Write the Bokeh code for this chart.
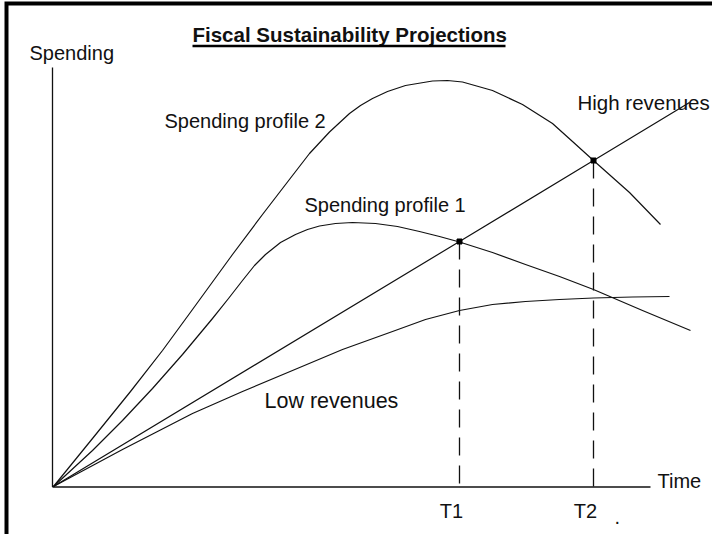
from bokeh.plotting import figure
from bokeh.models import Range1d
from bokeh.embed import file_html
from bokeh.resources import INLINE
from bokeh.core.properties import value

# ---- data (chart units: t = time, s = spending; origin at 0,0) ----
profile2_t = [0, 39, 77, 109, 139, 179, 209, 239, 256, 276, 296, 307, 319, 334, 352,
              379, 394, 409, 439, 469, 499, 519, 540, 576, 607]
profile2_s = [0, 48, 95, 136, 177, 232, 272, 311, 333, 354.5, 373, 381, 388, 395, 401,
              405.5, 406, 404.5, 396, 382, 363, 345, 326, 294, 262]

profile1_t = [0, 39, 69, 99, 129, 159, 175, 189, 201, 212, 227, 242, 254, 266, 282,
              299, 322, 344, 366, 386, 406, 439, 472, 506, 540, 589, 637]
profile1_s = [0, 36, 66, 98, 132, 168, 188, 206, 221, 232, 244, 252, 257, 260.5, 263,
              264, 263, 260, 255, 250, 244.5, 234, 222, 210, 197, 176, 156]

high_rev_t = [0, 406, 540, 636]
high_rev_s = [0, 245, 326, 384]

low_rev_t = [0, 69, 139, 189, 239, 289, 339, 372, 406, 439, 472, 506, 540, 579, 616]
low_rev_s = [0, 37, 73, 95, 116, 137, 155, 167, 176, 182, 185, 187, 188.5, 189.5, 190]

cross_t = [406, 540]          # T1, T2
cross_s = [245, 326]
tick_labels = ["T1", "T2"]

FONT = value("Liberation Sans")
INK = "#111111"

W, H = 712, 534
p = figure(width=W, height=H, output_backend="svg", toolbar_location=None,
           x_range=Range1d(-53, W - 53), y_range=Range1d(486 - H, 486),
           min_border=0, outline_line_color=None)
p.axis.visible = False
p.grid.visible = False
p.background_fill_color = "white"
p.border_fill_color = "white"

# page frame (thick black border, clipped at right/bottom)
p.line([800, -47, -47], [483, 483, -100], line_color="black", line_width=4,
       line_join="miter")

# axes
p.line([-1, -1], [419, -0.5], line_color=INK, line_width=1.3)
p.line([-1, 597], [-0.5, -0.5], line_color=INK, line_width=1.3)

# dashed verticals
for t, s in zip(cross_t, cross_s):
    p.line([t, t], [s, -0.5], line_color=INK, line_width=1.3, line_dash="18 10")

# curves
for xs, ys in [(profile2_t, profile2_s), (profile1_t, profile1_s),
               (high_rev_t, high_rev_s), (low_rev_t, low_rev_s)]:
    p.line(xs, ys, line_color=INK, line_width=1.2, line_join="round")

p.scatter(cross_t, cross_s, marker="square", size=5, color="black")

# texts
def label(x, y, txt, bold=False, align="left", baseline="middle", size="20px"):
    p.text([x], [y], text=[txt], text_font=FONT, text_font_size=size,
           text_color=INK, text_align=align, text_baseline=baseline,
           text_font_style="bold" if bold else "normal")

label(139, 452, "Fiscal Sustainability Projections", bold=True, size="20.5px")
p.line([139, 452], [440.5, 440.5], line_color="black", line_width=2.5)
label(-24, 434, "Spending")
label(111, 366, "Spending profile 2")
label(251, 282, "Spending profile 1")
label(211, 86, "Low revenues", size="21.5px")
label(524, 384, "High revenues", size="20.5px")
label(604, 6, "Time")
for t, lab in zip(cross_t, tick_labels):
    label(t - 8, -24, lab, align="center")
label(561, -30, ".", baseline="alphabetic")

open("out.html", "w").write(file_html(p, INLINE))
